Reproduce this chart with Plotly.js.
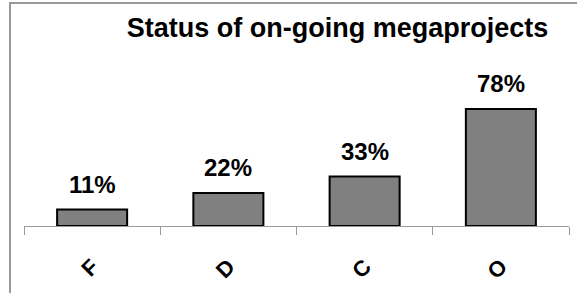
<!DOCTYPE html>
<html>
<head>
<meta charset="utf-8">
<script src="https://cdn.plot.ly/plotly-3.0.1.min.js"></script>
<style>
html,body{margin:0;padding:0;background:#fff;}
#chart{width:577px;height:293px;}
</style>
</head>
<body>
<div id="chart"></div>
<script>
var categories = ['F', 'D', 'C', 'O'];
var values = [11, 22, 33, 78];
var valueLabels = ['11%', '22%', '33%', '78%'];
var chartTitle = 'Status of on-going megaprojects';

var FONT = 'Liberation Sans, Arial, sans-serif';

var trace = {
  type: 'bar',
  x: categories,
  y: values,
  marker: {color: '#808080', line: {color: '#000000', width: 2}},
  hoverinfo: 'none'
};

var annotations = categories.map(function (c, i) {
  return {
    x: c, y: values[i], xref: 'x', yref: 'y',
    text: valueLabels[i], showarrow: false,
    yanchor: 'bottom', xanchor: 'center', yshift: 10,
    font: {family: FONT, size: 24, color: '#000', weight: 'bold'}
  };
});

var layout = {
  width: 577, height: 293,
  margin: {l: 24, r: 8, t: 76, b: 67},
  paper_bgcolor: '#ffffff', plot_bgcolor: '#ffffff',
  showlegend: false,
  bargap: 0.486,
  title: {
    text: chartTitle,
    font: {family: FONT, size: 27, color: '#000', weight: 'bold'},
    x: 0.585, xref: 'container', xanchor: 'center',
    y: 0.905, yref: 'container', yanchor: 'middle'
  },
  xaxis: {
    type: 'category',
    range: [-0.5, 3.5],
    showline: true, linecolor: '#999999', linewidth: 1,
    ticks: 'outside', ticklen: 8, tickcolor: '#999999', tickwidth: 1,
    tickson: 'boundaries',
    tickangle: -45,
    ticklabelstandoff: 18,
    tickfont: {family: FONT, size: 22, color: '#000', weight: 'bold'},
    showgrid: false, zeroline: false, fixedrange: true
  },
  yaxis: {
    range: [0, 100], visible: false, showgrid: false, zeroline: false, fixedrange: true
  },
  annotations: annotations,
  shapes: [{
    type: 'rect', xref: 'paper', yref: 'paper',
    x0: -14 / 545, x1: 1.3, y0: -0.8, y1: 223 / 150,
    line: {color: '#999999', width: 2}, fillcolor: 'rgba(0,0,0,0)', layer: 'below'
  }]
};

Plotly.newPlot('chart', [trace], layout, {displayModeBar: false, staticPlot: true});
</script>
</body>
</html>
